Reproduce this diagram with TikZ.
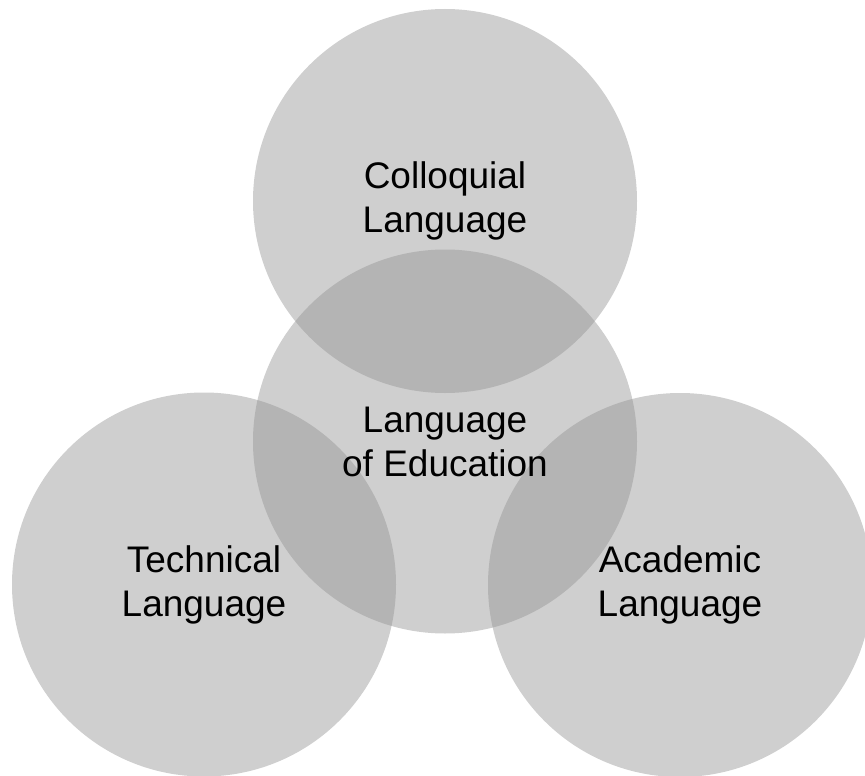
\documentclass[tikz,border=0pt]{standalone}
\usepackage{fontspec}
\setmainfont{Liberation Sans}
\definecolor{venn}{RGB}{145,145,145}
\begin{document}
\begin{tikzpicture}[x=1pt,y=-1pt,
  vcirc/.style={circle, minimum size=384pt, inner sep=0pt, fill=venn, fill opacity=0.44, draw=none},
  vtext/.style={align=center, text=black, font=\fontsize{37}{44}\selectfont, inner sep=0pt}]
\useasboundingbox (0,0) rectangle (865,776);
\clip (0,0) rectangle (865,776);
\node[vcirc] (top) at (445,201) {};
\node[vcirc] (mid) at (445,441.5) {};
\node[vcirc] (left) at (204,584.5) {};
\node[vcirc] (right) at (680,585) {};
\node[vtext] (ttop) at (top.center) {Colloquial\\Language};
\node[vtext] (tmid) at (mid.center) {Language\\of Education};
\node[vtext] (tleft) at (left.center) {Technical\\Language};
\node[vtext] (tright) at (right.center) {Academic\\Language};
\end{tikzpicture}
\end{document}
